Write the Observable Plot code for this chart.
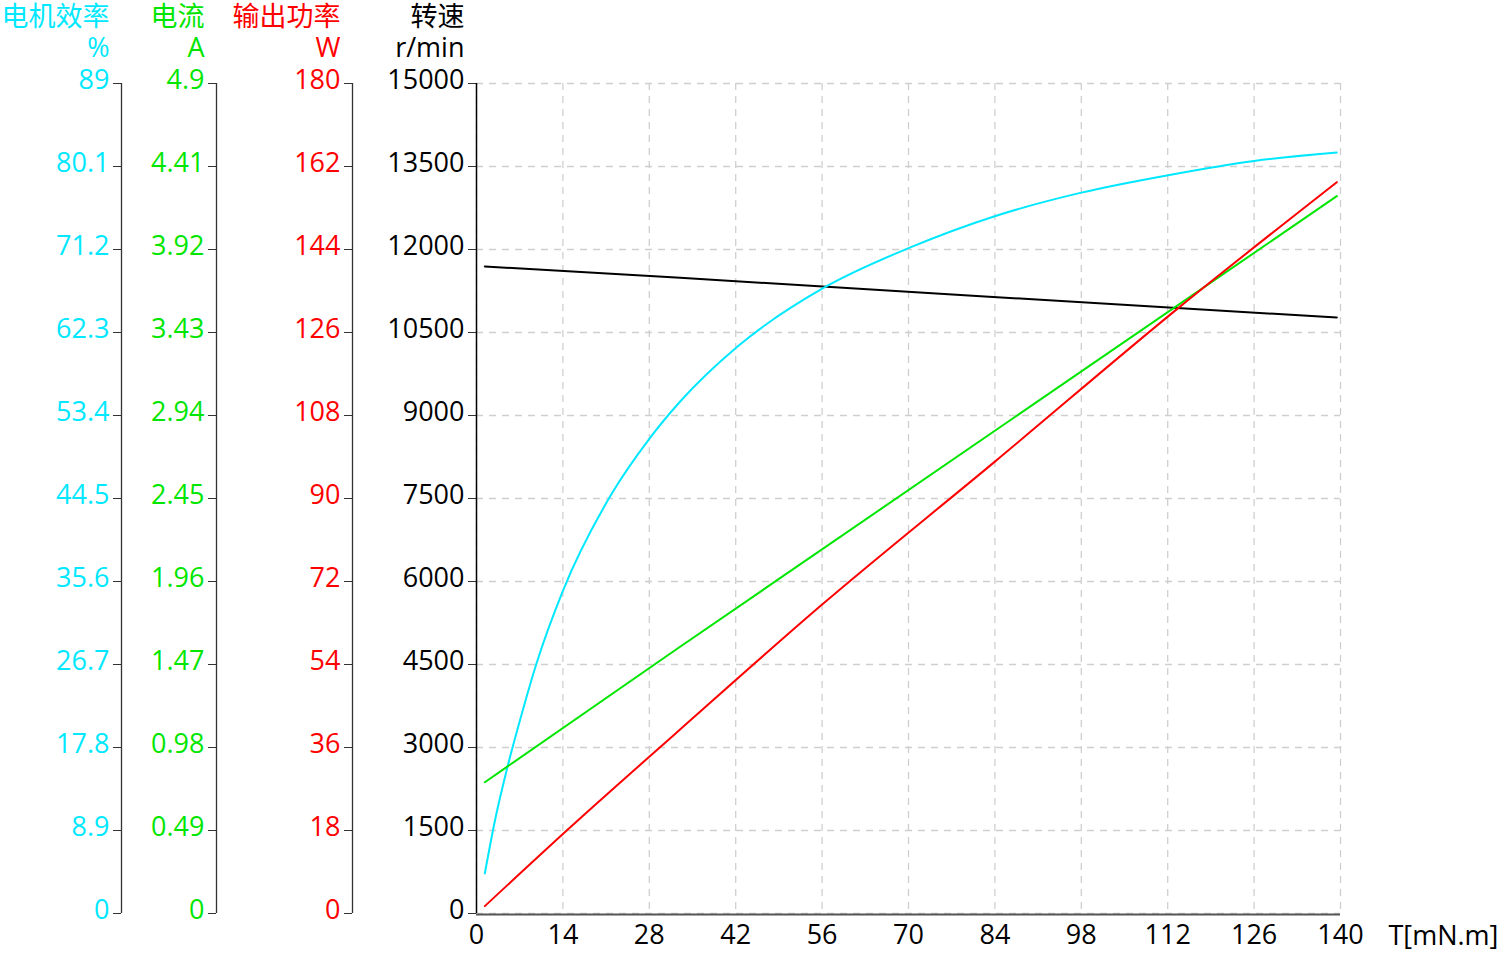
<!DOCTYPE html>
<html><head><meta charset="utf-8">
<script src="https://cdn.jsdelivr.net/npm/d3@7"></script>
<script src="https://cdn.jsdelivr.net/npm/@observablehq/plot@0.6"></script>
<style>body{margin:0;background:#fff}#chart{width:1500px;height:953px}</style>
</head><body><div id="chart"></div>
<script>
// ---- data ----
const torqueTicks = [0, 14, 28, 42, 56, 70, 84, 98, 112, 126, 140];
const speedTicks = [0, 1500, 3000, 4500, 6000, 7500, 9000, 10500, 12000, 13500, 15000];
const effTickLabels = ["0", "8.9", "17.8", "26.7", "35.6", "44.5", "53.4", "62.3", "71.2", "80.1", "89"];
const currentTickLabels = ["0", "0.49", "0.98", "1.47", "1.96", "2.45", "2.94", "3.43", "3.92", "4.41", "4.9"];
const powerTickLabels = ["0", "18", "36", "54", "72", "90", "108", "126", "144", "162", "180"];
const speedTickLabels = ["0", "1500", "3000", "4500", "6000", "7500", "9000", "10500", "12000", "13500", "15000"];
const effMax = 89, currentMax = 4.9, powerMax = 180, speedMax = 15000, torqueMax = 140;

const effT = [1.35, 3, 5.13, 7.5, 9.72, 14, 21.9, 28, 33, 42.3, 56.3, 70.2, 84.1, 98, 112.3, 126, 139.4];
const effValues = [4.3, 10.0, 16.0, 21.8, 26.8, 34.6, 45.0, 50.9, 54.9, 60.8, 67.1, 71.4, 74.8, 77.3, 79.2, 80.7, 81.6];
const currentT = [1.35, 32.4, 139.4];
const currentValues = [0.775, 1.56, 4.235];
const powerT = [1.35, 15.2, 32.4, 56, 84, 113.8, 139.4];
const powerValues = [1.6, 18.7, 39.2, 67.0, 98.0, 131.4, 158.6];
const speedT = [1.35, 33, 81.7, 139.4];
const speedValues = [11693, 11489, 11156, 10771];

// ---- styling ----
const CYAN = "#00e8ff", GREEN = "#00e600", RED = "#ff0000", BLACK = "#000";
const FONT = "'Open Sans','Noto Sans CJK SC',sans-serif";
const FS = 27;

const toRows = (ts, vs, max) => ts.map((t, i) => ({t, v: vs[i] * speedMax / max}));

const axes = [
  {name: "电机效率", unit: "%", labels: effTickLabels, color: CYAN, dx: -355},
  {name: "电流", unit: "A", labels: currentTickLabels, color: GREEN, dx: -260},
  {name: "输出功率", unit: "W", labels: powerTickLabels, color: RED, dx: -124},
  {name: "转速", unit: "r/min", labels: speedTickLabels, color: BLACK, dx: 0}
];

const grid = {stroke: "#cfcfcf", strokeOpacity: 1, strokeDasharray: "7,6", strokeWidth: 1.3};
const marks = [Plot.gridX(torqueTicks, grid), Plot.gridY(speedTicks, grid)];
for (const a of axes) {
  // tick marks only
  marks.push(Plot.axisY(speedTicks, {
    anchor: "left", dx: a.dx, tickSize: 8, tickPadding: 0, fontSize: FS,
    fill: "none", stroke: "#333", label: null, tickFormat: () => ""
  }));
  // tick labels only, nudged up slightly
  marks.push(Plot.axisY(speedTicks, {
    anchor: "left", dx: a.dx, dy: -3, tickSize: 0, tickPadding: 12, fontSize: FS,
    fill: a.color, stroke: "none", label: null,
    tickFormat: d => a.labels[speedTicks.indexOf(d)]
  }));
  marks.push(Plot.ruleX([0], {dx: a.dx, stroke: a.dx === 0 ? "#000" : "#333", strokeWidth: a.dx === 0 ? 1.5 : 1.3}));
  marks.push(Plot.text([a.name], {text: d => d, frameAnchor: "top-left", lineAnchor: "middle", dx: a.dx - 12, dy: -66, textAnchor: "end", fill: a.color, fontSize: FS}));
  marks.push(Plot.text([a.unit], {text: d => d, frameAnchor: "top-left", lineAnchor: "middle", dx: a.dx - 12, dy: -35, textAnchor: "end", fill: a.color, fontSize: FS}));
}
marks.push(
  Plot.axisX(torqueTicks, {anchor: "bottom", tickSize: 0, tickPadding: 11, fontSize: FS, fill: BLACK, label: null}),
  Plot.ruleY([0], {stroke: "#555", strokeWidth: 2, dy: 1}),
  Plot.text(["T[mN.m]"], {text: d => d, frameAnchor: "bottom-right", lineAnchor: "middle", dx: 48, dy: 23, textAnchor: "start", fill: BLACK, fontSize: FS}),
  Plot.line(toRows(speedT, speedValues, speedMax), {x: "t", y: "v", stroke: BLACK, strokeWidth: 2}),
  Plot.line(toRows(effT, effValues, effMax), {x: "t", y: "v", stroke: CYAN, strokeWidth: 2, curve: "monotone-x"}),
  Plot.line(toRows(currentT, currentValues, currentMax), {x: "t", y: "v", stroke: GREEN, strokeWidth: 2}),
  Plot.line(toRows(powerT, powerValues, powerMax), {x: "t", y: "v", stroke: RED, strokeWidth: 2, curve: "monotone-x"})
);

const chart = Plot.plot({
  width: 1500, height: 953,
  marginLeft: 476, marginRight: 160, marginTop: 83, marginBottom: 40,
  x: {domain: [0, torqueMax]},
  y: {domain: [0, speedMax]},
  style: {fontFamily: FONT, fontSize: FS + "px", background: "#fff", overflow: "visible"},
  marks
});
document.getElementById("chart").appendChild(chart);
</script>
</body></html>
